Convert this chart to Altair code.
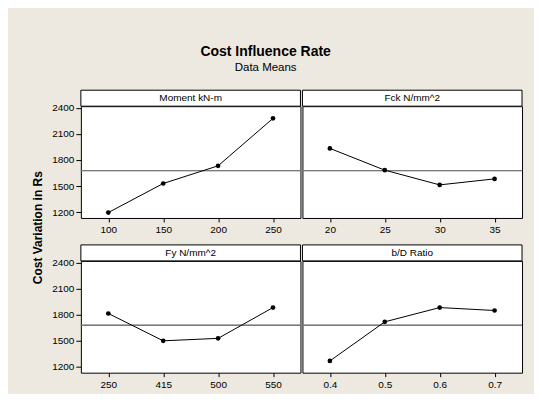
import altair as alt
import pandas as pd

# ---- data ----
chart_title = "Cost Influence Rate"
chart_subtitle = "Data Means"
y_title = "Cost Variation in Rs"

factor_names = ["Moment kN-m", "Fck N/mm^2", "Fy N/mm^2", "b/D Ratio"]

moment_levels = ["100", "150", "200", "250"]
moment_means = [1196, 1530, 1733, 2278]

fck_levels = ["20", "25", "30", "35"]
fck_means = [1933, 1683, 1514, 1583]

fy_levels = ["250", "415", "500", "550"]
fy_means = [1814, 1500, 1528, 1882]

bd_levels = ["0.4", "0.5", "0.6", "0.7"]
bd_means = [1269, 1718, 1882, 1848]

grand_mean = 1678
y_ticks = [1200, 1500, 1800, 2100, 2400]

# ---- layout / style ----
W, H = 220, 112
STRIP = 16
Y_DOMAIN = [1134, 2418]
BEIGE = "#EDE9E0"
FONT = "Liberation Sans"


def panel(name, levels, means, show_y):
    df = pd.DataFrame({"level": levels, "mean": means,
                       "gm": [grand_mean] * len(levels)})
    strip_df = pd.DataFrame({"name": [name]})
    x = alt.X(
        "level:N",
        sort=levels,
        scale=alt.Scale(type="point", padding=0.5),
        axis=alt.Axis(
            title=None, labelAngle=0, tickSize=4, tickColor="black",
            labelColor="black", labelFontSize=10, labelPadding=3,
            domain=False, grid=False,
        ),
    )
    if show_y:
        yaxis = alt.Axis(
            values=y_ticks, format="d", tickSize=5, tickColor="black",
            labelColor="black", labelFontSize=10, labelPadding=2,
            domain=False, grid=False, title=None,
        )
    else:
        yaxis = None
    yscale = alt.Scale(domain=Y_DOMAIN, nice=False, zero=False)
    y = alt.Y("mean:Q", scale=yscale, axis=yaxis)
    y_ref = alt.Y("gm:Q", scale=yscale, axis=yaxis)

    ref = alt.Chart(df).mark_rule(color="#7a7a7a", strokeWidth=1).encode(y=y_ref)
    line = alt.Chart(df).mark_line(color="black", strokeWidth=1).encode(x=x, y=y)
    pts = alt.Chart(df).mark_circle(color="black", opacity=1, size=22).encode(x=x, y=y)
    strip = alt.Chart(strip_df).mark_rect(
        fill="white", stroke="black", strokeWidth=1
    ).encode(x=alt.value(0), x2=alt.value(W), y=alt.value(-STRIP), y2=alt.value(0))
    strip_text = alt.Chart(strip_df).mark_text(
        fontSize=10, color="black", baseline="middle", align="center"
    ).encode(text="name:N", x=alt.value(W / 2), y=alt.value(-STRIP / 2))

    return alt.layer(ref, line, pts, strip, strip_text).properties(width=W, height=H)


p1 = panel(factor_names[0], moment_levels, moment_means, True)
p2 = panel(factor_names[1], fck_levels, fck_means, False)
p3 = panel(factor_names[2], fy_levels, fy_means, True)
p4 = panel(factor_names[3], bd_levels, bd_means, False)

row1 = alt.hconcat(p1, p2, spacing=0)
row2 = alt.hconcat(p3, p4, spacing=0)

grid = alt.vconcat(row1, row2, spacing=8).properties(
    title=alt.TitleParams(y_title, orient="left", fontSize=12, fontWeight="bold",
                          color="black", anchor="middle", offset=6, dx=12)
)

chart = alt.vconcat(grid).properties(
    title=alt.TitleParams(chart_title, subtitle=chart_subtitle, fontSize=14,
                          fontWeight="bold", color="black", subtitleFontSize=11.5,
                          subtitleColor="black", subtitlePadding=3,
                          anchor="middle", offset=16, dx=-12),
    padding={"left": 24, "top": 36, "right": 11, "bottom": 3},
    background=BEIGE,
).configure(font=FONT).configure_view(stroke="black", fill="white")

chart.save("out.html", embed_options={"renderer": "svg", "actions": False})
